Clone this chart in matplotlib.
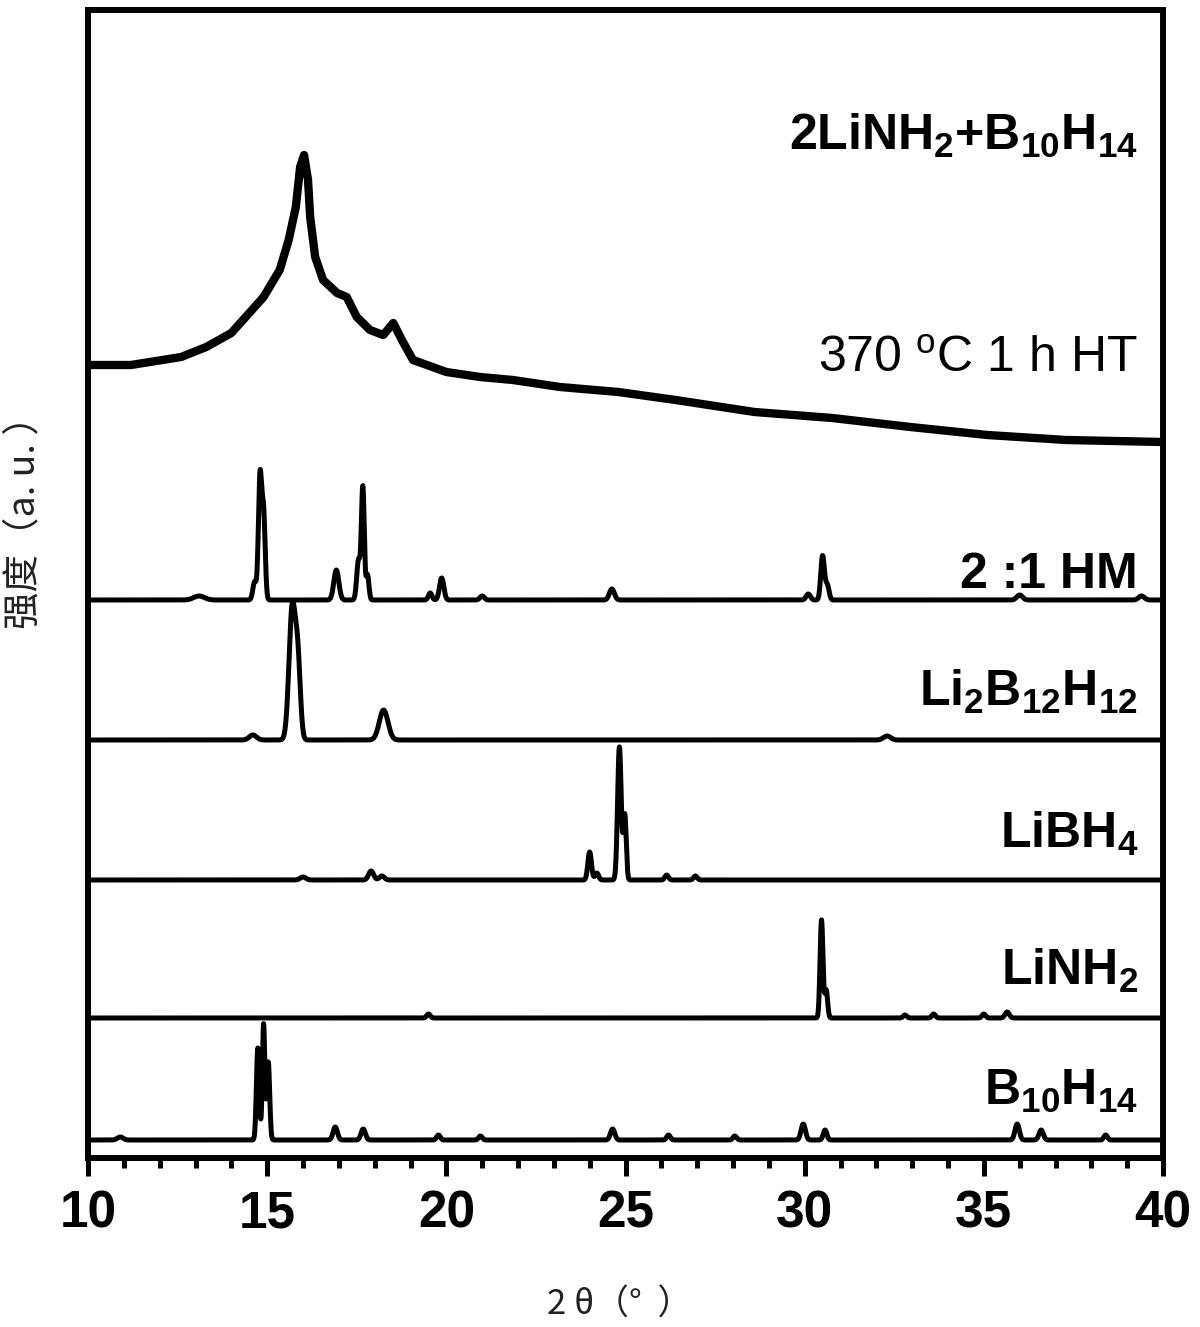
import numpy as np
import matplotlib
matplotlib.use('Agg')
import matplotlib.pyplot as plt

plt.rcParams['font.family'] = ['Liberation Sans', 'DejaVu Sans']
plt.rcParams['mathtext.fontset'] = 'custom'
plt.rcParams['mathtext.rm'] = 'Liberation Sans'
plt.rcParams['mathtext.bf'] = 'Liberation Sans:bold'

# 370 C 1 h HT trace (2theta, intensity)
ht_x = [10.0, 11.2, 12.6, 13.3, 14.0, 14.4, 14.9, 15.35, 15.6, 15.8, 15.92, 16.03,
        16.14, 16.2, 16.34, 16.56, 16.95, 17.22, 17.5, 17.87, 18.24, 18.52, 18.76,
        19.07, 20.0, 20.94, 21.86, 23.17, 24.8, 26.4, 28.6, 30.77, 32.95, 35.1,
        37.3, 40.0]
ht_y = [793, 793, 801, 811, 825, 841, 861, 888, 918, 951, 991, 1003,
        978, 941, 901, 878, 865, 861, 841, 828, 823, 835, 818,
        798, 786, 781, 778, 771, 766, 758, 746, 740, 731, 723,
        718, 716]

# crystalline patterns: peak position, height, width
hm_pos = [13.1, 14.65, 14.8, 14.9, 16.93, 17.55, 17.67, 17.8, 19.55, 19.87, 21.0,
          24.62, 30.1, 30.5, 30.63, 36.0, 39.4]
hm_h = [4, 18, 122, 85, 30, 40, 112, 25, 7, 22, 4, 11, 6, 44, 15, 5, 4]
hm_w = [0.15, 0.05, 0.045, 0.045, 0.07, 0.05, 0.04, 0.04, 0.05, 0.06, 0.06,
        0.07, 0.06, 0.05, 0.05, 0.08, 0.08]

lb12_pos = [14.6, 15.70, 15.86, 18.25, 32.3]
lb12_h = [5, 132, 70, 30, 4]
lb12_w = [0.1, 0.09, 0.07, 0.12, 0.1]

lbh4_pos = [16.0, 17.9, 18.2, 24.0, 24.2, 24.83, 24.98, 26.15, 26.95]
lbh4_h = [3, 9, 4, 28, 7, 133, 65, 5, 4]
lbh4_w = [0.08, 0.07, 0.07, 0.05, 0.05, 0.05, 0.04, 0.05, 0.05]

linh2_pos = [19.5, 30.47, 30.6, 32.8, 33.6, 35.0, 35.65]
linh2_h = [4, 98, 28, 3, 4, 4, 6]
linh2_w = [0.05, 0.04, 0.04, 0.05, 0.05, 0.05, 0.06]

b10_pos = [10.9, 14.74, 14.9, 15.03, 16.9, 17.68, 19.78, 20.95, 24.64, 26.2, 28.05,
           29.96, 30.57, 35.93, 36.6, 38.4]
b10_h = [3, 92, 116, 78, 13, 11, 5, 4, 11, 5, 4, 16, 10, 16, 10, 5]
b10_w = [0.08, 0.04, 0.035, 0.04, 0.06, 0.06, 0.05, 0.05, 0.06, 0.05, 0.05,
         0.06, 0.05, 0.06, 0.06, 0.05]

offsets = [558, 418, 278, 140, 18]


def pattern(x, pos, h, w):
    y = np.zeros_like(x)
    for p, a, s in zip(pos, h, w):
        y += a * np.exp(-0.5 * ((x - p) / s) ** 2)
    return y


x = np.linspace(10, 40, 3001)

fig = plt.figure(figsize=(12, 13.27), dpi=100)
ax = fig.add_axes([88 / 1200, 1 - 1158 / 1327, 1075 / 1200, 1148 / 1327])

ax.plot(ht_x, ht_y, color='black', lw=6, solid_joinstyle='round')
series = [(hm_pos, hm_h, hm_w), (lb12_pos, lb12_h, lb12_w), (lbh4_pos, lbh4_h, lbh4_w),
          (linh2_pos, linh2_h, linh2_w), (b10_pos, b10_h, b10_w)]
for (pos, h, w), off in zip(series, offsets):
    ax.plot(x, off + pattern(x, pos, h, w), color='black', lw=3.6)

labels = [
    (r'2LiNH$_\mathbf{2}$+B$_\mathbf{10}$H$_\mathbf{14}$', 1008, 'bold'),
    (r'370 $^\mathrm{o}$C 1 h HT', 786, 'normal'),
    ('2 :1 HM', 570, 'bold'),
    (r'Li$_\mathbf{2}$B$_\mathbf{12}$H$_\mathbf{12}$', 452, 'bold'),
    (r'LiBH$_\mathbf{4}$', 310, 'bold'),
    (r'LiNH$_\mathbf{2}$', 173, 'bold'),
    (r'B$_\mathbf{10}$H$_\mathbf{14}$', 53, 'bold'),
]
for txt, yy, fw in labels:
    ax.text(39.3, yy, txt, ha='right', va='baseline', fontsize=36, fontweight=fw)

ax.set_xlim(10, 40)
ax.set_ylim(0, 1148)
ax.set_xticks(np.arange(10, 41, 5))
ax.set_xticks(np.arange(10, 41, 1), minor=True)
ax.set_yticks([])
ax.tick_params(axis='x', which='major', direction='out', length=13, width=3.6,
               labelsize=37, pad=10)
ax.tick_params(axis='x', which='minor', direction='out', length=7, width=3.6)
for lab in ax.get_xticklabels():
    lab.set_fontweight('bold')
for sp in ax.spines.values():
    sp.set_linewidth(4.3)

cjk = ['Noto Sans CJK SC', 'DejaVu Sans']
fig.text(620 / 1200, 1 - 1305 / 1327, '2 θ（°  ）', ha='center', va='center',
         fontsize=25, family=cjk, color='#222222')
fig.text(24 / 1200, 1 - 513 / 1327, '强度（a. u. ）', ha='center', va='center',
         rotation=90, fontsize=27, family=cjk, color='#222222')

fig.savefig('out.png', dpi=100)
